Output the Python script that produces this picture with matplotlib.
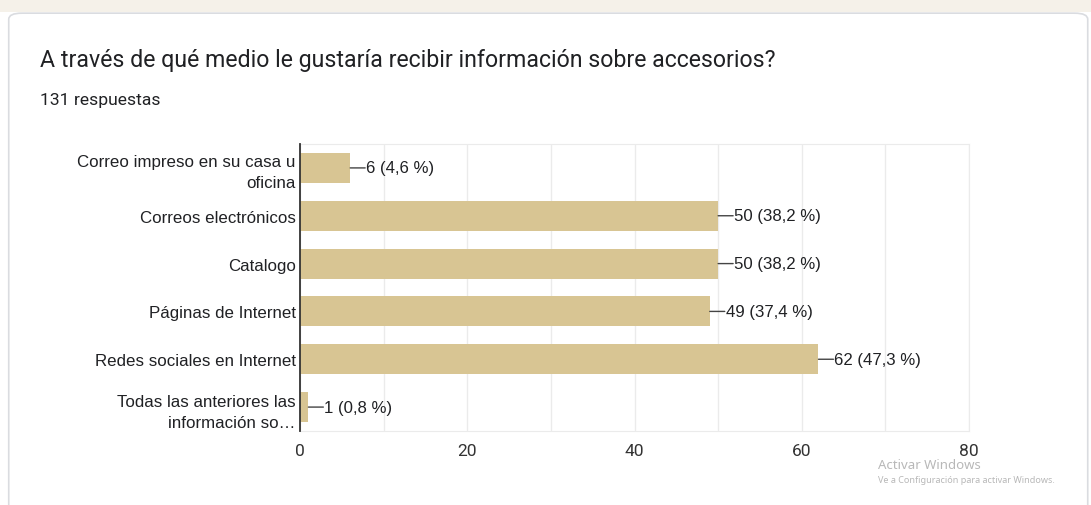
import matplotlib.pyplot as plt
from matplotlib.patches import FancyBboxPatch, Rectangle

# Survey answers
categories = [
    "Correo impreso en su casa u\noficina",
    "Correos electrónicos",
    "Catalogo",
    "Páginas de Internet",
    "Redes sociales en Internet",
    "Todas las anteriores las\ninformación so…",
]
counts = [6, 50, 50, 49, 62, 1]
percents = ["4,6", "38,2", "38,2", "37,4", "47,3", "0,8"]
x_ticks = [0, 20, 40, 60, 80]
total = 131

bar_color = "#d8c593"
text_color = "#202124"

fig = plt.figure(figsize=(10.91, 5.06), dpi=100)
fig.patch.set_facecolor("white")

# page background strip and the card
fig.add_artist(Rectangle((0, 0.975), 1, 0.025, transform=fig.transFigure,
                         facecolor="#f5f1e9", edgecolor="none", zorder=0))
fig.add_artist(FancyBboxPatch((0.008, -0.05), 0.989, 1.022,
                              boxstyle="round,pad=0,rounding_size=0.012",
                              transform=fig.transFigure, facecolor="white",
                              edgecolor="#dadce0", linewidth=1.2, zorder=0))

fig.text(40 / 1091, 1 - 60 / 506, "A través de qué medio le gustaría recibir información sobre accesorios?",
         fontsize=16.7, family="Roboto", color=text_color, va="center")
fig.text(40 / 1091, 1 - 100 / 506, f"{total} respuestas",
         fontsize=12.6, family="Roboto", color=text_color, va="center")

ax = fig.add_axes([300 / 1091, 1 - 432 / 506, 669 / 1091, 287 / 506])
y = list(range(len(categories)))
ax.barh(y, counts, height=0.63, color=bar_color, zorder=2)
ax.set_ylim(len(categories) - 0.5, -0.5)
ax.set_xlim(0, 80)

# value labels with a short leader line from the bar end
for yi, c, p in zip(y, counts, percents):
    ax.annotate("", xy=(c, yi), xytext=(15, 0), textcoords="offset pixels",
                arrowprops=dict(arrowstyle="-", color="#444444", lw=1, shrinkA=0, shrinkB=0))
    ax.annotate(f"{c} ({p} %)", xy=(c, yi), xytext=(16, 0), textcoords="offset pixels",
                va="center", ha="left", fontsize=12.1, family="Liberation Sans", color=text_color)

ax.set_xticks(range(0, 81, 10), minor=False)
ax.set_xticklabels([str(v) if v in x_ticks else "" for v in range(0, 81, 10)],
                   fontsize=12.5, family="Roboto", color="#333333")
ax.tick_params(axis="x", length=0, pad=9)
ax.set_yticks(y)
ax.set_yticklabels(categories, fontsize=12.2, family="Liberation Sans", color=text_color,
                   linespacing=1.5)
ax.tick_params(axis="y", length=0, pad=3)
ax.grid(axis="x", color="#ebebeb", linewidth=1, zorder=0)

for side in ["top", "right", "bottom"]:
    ax.spines[side].set_color("#ebebeb")
ax.spines["left"].set_color("#333333")
ax.spines["left"].set_linewidth(1.3)
ax.spines["left"].set_zorder(3)

fig.text(878 / 1091, 1 - 466 / 506, "Activar Windows", fontsize=9.5,
         family="Noto Sans", color="#b8b8b8", va="center")
fig.text(878 / 1091, 1 - 481 / 506, "Ve a Configuración para activar Windows.", fontsize=6.5,
         family="Noto Sans", color="#b8b8b8", va="center")

fig.savefig("out.png", dpi=100)
